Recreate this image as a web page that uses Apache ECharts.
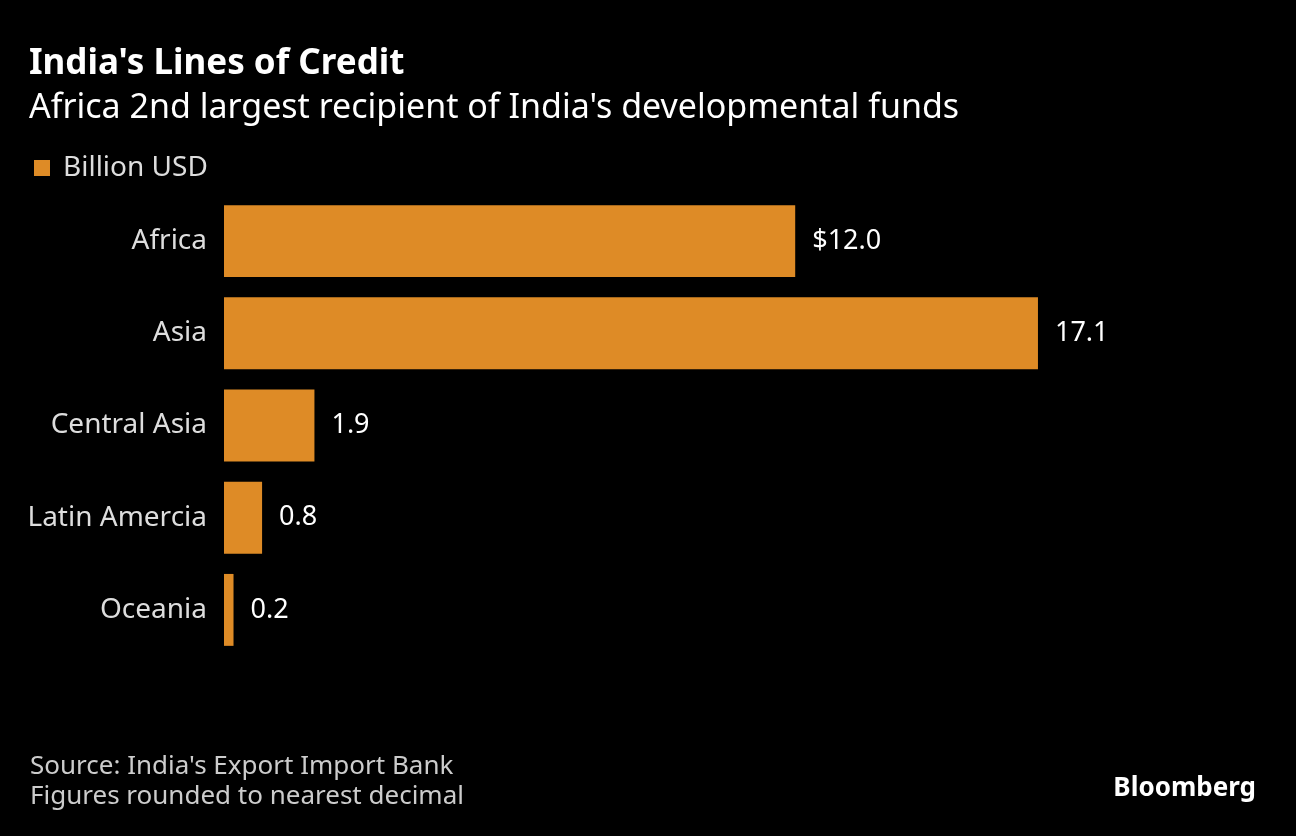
<!DOCTYPE html>
<html style="height: 100%">
<head>
  <meta charset="utf-8">
  <title>India's Lines of Credit</title>
</head>
<body style="height: 100%; margin: 0; background: #000">
<div id="container" style="width: 1296px; height: 836px; background: #000"></div>
<script src="https://cdn.jsdelivr.net/npm/echarts@6/dist/echarts.min.js"></script>
<script>
  var regions = ['Africa', 'Asia', 'Central Asia', 'Latin Amercia', 'Oceania'];
  var credit = [12.0, 17.1, 1.9, 0.8, 0.2];
  var seriesName = 'Billion USD';

  var font = '"Noto Sans", sans-serif';
  var orange = '#de8b26';

  var chart = echarts.init(document.getElementById('container'));

  var option = {
    backgroundColor: '#000',
    animation: false,
    textStyle: { fontFamily: font },
    title: [
      {
        text: "India's Lines of Credit",
        left: 24, top: 42,
        textStyle: { color: '#fff', fontSize: 35, fontWeight: 'bold', fontFamily: font }
      },
      {
        text: "Africa 2nd largest recipient of India's developmental funds",
        left: 24, top: 86,
        textStyle: { color: '#fff', fontSize: 34, fontWeight: 'normal', fontFamily: font }
      }
    ],
    legend: {
      left: 29, top: 149,
      itemWidth: 16, itemHeight: 16,
      icon: 'rect',
      textStyle: { color: '#ddd', fontSize: 28, fontFamily: font, padding: [0, 0, 0, 8] },
      data: [seriesName]
    },
    grid: { left: 224, right: 120, top: 195, bottom: 180, containLabel: false },
    xAxis: {
      type: 'value', min: 0, max: 20,
      show: false
    },
    yAxis: {
      type: 'category',
      inverse: true,
      data: regions,
      axisLine: { show: false },
      axisTick: { show: false },
      axisLabel: { color: '#ddd', fontSize: 28, margin: 17, fontFamily: font }
    },
    series: [{
      name: seriesName,
      type: 'bar',
      data: credit,
      barCategoryGap: '22%',
      itemStyle: { color: orange },
      label: {
        show: true,
        position: 'right',
        distance: 17,
        color: '#fff',
        fontSize: 27,
        fontFamily: font,
        formatter: function (p) {
          var v = p.value.toFixed(1);
          return p.dataIndex === 0 ? '$' + v : v;
        }
      }
    }],
    graphic: [
      {
        type: 'text', left: 30, top: 754,
        style: { text: "Source: India's Export Import Bank", fill: '#ccc', font: '26px ' + font }
      },
      {
        type: 'text', left: 30, top: 784,
        style: { text: 'Figures rounded to nearest decimal', fill: '#ccc', font: '26px ' + font }
      },
      {
        type: 'text', right: 40, top: 776,
        style: { text: 'Bloomberg', fill: '#fff', font: 'bold 26px ' + font }
      }
    ]
  };

  chart.setOption(option);
</script>
</body>
</html>
